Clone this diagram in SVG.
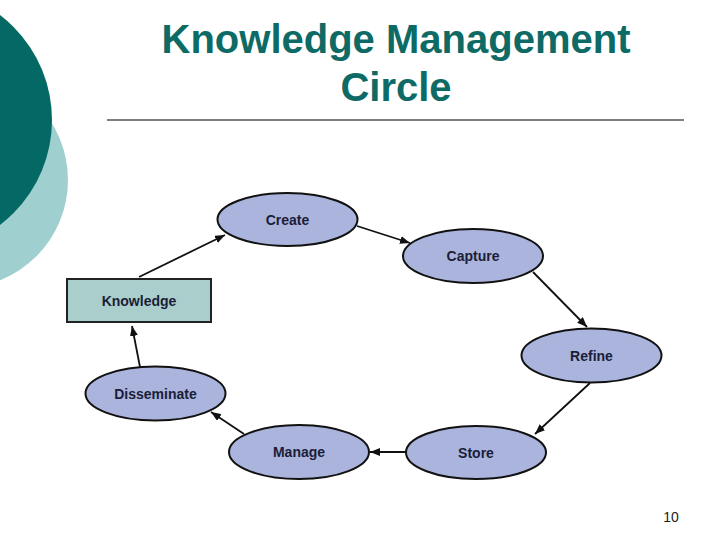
<svg xmlns="http://www.w3.org/2000/svg" width="720" height="540" viewBox="0 0 720 540">
<defs>
<style>
.title{font-family:"Liberation Sans",Arial,sans-serif;font-weight:bold;font-size:40px;fill:#0e6a65;text-anchor:middle}
.node ellipse{fill:#aab4dc;stroke:#111;stroke-width:2}
.node rect{fill:#a9cecb;stroke:#222;stroke-width:2}
.lbl{font-family:"Liberation Sans",Arial,sans-serif;font-weight:bold;font-size:14px;fill:#1b1d38;text-anchor:middle}
.edge{stroke:#111;stroke-width:1.8;fill:none;marker-end:url(#ah)}
</style>
<marker id="ah" viewBox="0 0 10 8" refX="10" refY="4" markerWidth="10" markerHeight="8" markerUnits="userSpaceOnUse" orient="auto">
<path d="M0,0 L10,4 L0,8 z" fill="#111"/>
</marker>
</defs>
<rect width="720" height="540" fill="#fff"/>
<g id="decor">
<circle cx="-40" cy="180" r="108" fill="#9fcfcf"/>
<circle cx="-80" cy="120" r="132" fill="#046964"/>
</g>
<text class="title" x="396" y="53">Knowledge Management</text>
<text class="title" x="396" y="101">Circle</text>
<line x1="107" y1="120" x2="684" y2="120" stroke="#555" stroke-width="1.6"/>
<g id="connectors">
<line class="edge" x1="139" y1="277" x2="225" y2="235"/>
<line class="edge" x1="357" y1="226" x2="410" y2="243"/>
<line class="edge" x1="533" y1="272" x2="587" y2="327"/>
<line class="edge" x1="590" y1="383" x2="535" y2="434"/>
<line class="edge" x1="406" y1="452" x2="370" y2="452"/>
<line class="edge" x1="244" y1="434" x2="211" y2="412"/>
<line class="edge" x1="140" y1="367" x2="132" y2="326"/>
</g>
<g id="knowledge" class="node">
<rect x="67" y="279" width="144" height="43"/>
<text class="lbl" x="139" y="306">Knowledge</text>
</g>
<g id="create" class="node">
<ellipse cx="287.5" cy="219.5" rx="70" ry="26.5"/>
<text class="lbl" x="287.5" y="224.5">Create</text>
</g>
<g id="capture" class="node">
<ellipse cx="473" cy="256" rx="70" ry="27"/>
<text class="lbl" x="473" y="261">Capture</text>
</g>
<g id="refine" class="node">
<ellipse cx="591.5" cy="355.5" rx="70" ry="27"/>
<text class="lbl" x="591.5" y="360.5">Refine</text>
</g>
<g id="store" class="node">
<ellipse cx="476" cy="452.5" rx="70" ry="26.5"/>
<text class="lbl" x="476" y="457.5">Store</text>
</g>
<g id="manage" class="node">
<ellipse cx="299" cy="452" rx="70" ry="27"/>
<text class="lbl" x="299" y="457">Manage</text>
</g>
<g id="disseminate" class="node">
<ellipse cx="155.5" cy="393.5" rx="70" ry="27"/>
<text class="lbl" x="155.5" y="398.5">Disseminate</text>
</g>
<text x="671" y="522" font-family="'Liberation Sans',Arial,sans-serif" font-size="14" fill="#222" text-anchor="middle">10</text>
</svg>
